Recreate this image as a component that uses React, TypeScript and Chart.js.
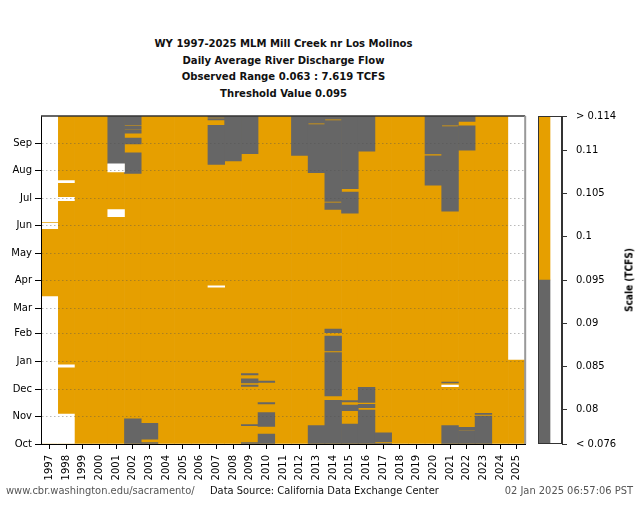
import React, { useEffect, useRef } from 'react';
import { Chart, registerables } from 'chart.js';

Chart.register(...registerables);

// ---------- data ----------
const years = [
  '1997', '1998', '1999', '2000', '2001', '2002', '2003', '2004', '2005', '2006',
  '2007', '2008', '2009', '2010', '2011', '2012', '2013', '2014', '2015', '2016',
  '2017', '2018', '2019', '2020', '2021', '2022', '2023', '2024', '2025',
];

// day-of-water-year (0 = Oct 1) where each month starts
const monthStarts = [0, 31, 61, 92, 123, 151, 182, 212, 243, 273, 304, 334];
const monthLabels = ['Oct', 'Nov', 'Dec', 'Jan', 'Feb', 'Mar', 'Apr', 'May', 'Jun', 'Jul', 'Aug', 'Sep'];
const waterYearDays = 365;

// runs of days with flow below the threshold: [year, startDay, endDay]
const belowRuns: [string, number, number][] = [
  ['2001', 312, 365],
  ['2002', 0, 28],
  ['2002', 301, 324],
  ['2002', 334, 340.5],
  ['2002', 346, 349],
  ['2002', 350, 353.5],
  ['2002', 354.7, 365],
  ['2003', 0, 1.5],
  ['2003', 5.5, 23],
  ['2007', 311, 354.7],
  ['2007', 360.5, 362],
  ['2007', 363.3, 365],
  ['2008', 315, 365],
  ['2009', 0, 1.5],
  ['2009', 20.5, 21.5],
  ['2009', 64, 65.5],
  ['2009', 68, 72.5],
  ['2009', 77, 78.5],
  ['2009', 323, 365],
  ['2010', 0, 11],
  ['2010', 19.5, 35],
  ['2010', 44.5, 46],
  ['2010', 68.5, 70],
  ['2012', 321, 365],
  ['2013', 0, 20.5],
  ['2013', 302, 355.4],
  ['2013', 357, 365],
  ['2014', 0, 48.6],
  ['2014', 53.4, 101.6],
  ['2014', 103.5, 120.2],
  ['2014', 124, 128],
  ['2014', 261, 268.5],
  ['2014', 270, 359.8],
  ['2014', 361.4, 365],
  ['2015', 0, 22.3],
  ['2015', 37, 43.4],
  ['2015', 46.7, 48.2],
  ['2015', 257, 280.4],
  ['2015', 284, 365],
  ['2016', 0, 37.8],
  ['2016', 40.4, 44.2],
  ['2016', 46.4, 63],
  ['2016', 326, 365],
  ['2017', 0, 1],
  ['2017', 2.5, 12.5],
  ['2020', 288, 320.8],
  ['2020', 322.7, 365],
  ['2021', 0, 20.4],
  ['2021', 68, 69],
  ['2021', 259, 353.1],
  ['2021', 354.7, 365],
  ['2022', 0, 15],
  ['2022', 16, 18.5],
  ['2022', 327, 354],
  ['2022', 359, 365],
  ['2023', 0, 31.2],
  ['2023', 33, 34.2],
];

// runs of days with no data: [year, startDay, endDay]
const missingRuns: [string, number, number][] = [
  ['1997', 0, 164],
  ['1997', 239.5, 245.5],
  ['1997', 247, 365],
  ['1998', 0, 33.4],
  ['1998', 85.4, 88],
  ['1998', 270.7, 274.5],
  ['1998', 290.8, 293],
  ['2001', 253, 261],
  ['2001', 302.7, 311.9],
  ['2007', 174.5, 176],
  ['2021', 63.8, 65.7],
  ['2025', 94.2, 365],
];

// colour scale
const scaleMin = 0.076;
const scaleMax = 0.114;
const threshold = 0.095;
const scaleTicks = [0.076, 0.08, 0.085, 0.09, 0.095, 0.1, 0.105, 0.11, 0.114];
const scaleTickLabels = ['< 0.076', '0.08', '0.085', '0.09', '0.095', '0.1', '0.105', '0.11', '> 0.114'];

const titleLines = [
  'WY 1997-2025 MLM Mill Creek nr Los Molinos',
  'Daily Average River Discharge Flow',
  'Observed Range 0.063 : 7.619 TCFS',
  'Threshold Value 0.095',
];

// ---------- styles ----------
const ORANGE = '#E69F00';
const GRAY = '#666666';
const FONT = "'DejaVu Sans', sans-serif";
const FONT_C = "'DejaVu Sans Condensed', 'DejaVu Sans', sans-serif";

const frameMain = {
  id: 'frameMain',
  afterDraw(chart: any) {
    const { ctx, chartArea: a } = chart;
    ctx.save();
    ctx.lineWidth = 1.5;
    ctx.strokeStyle = '#333333';
    ctx.beginPath();
    ctx.moveTo(a.left, a.top);
    ctx.lineTo(a.right, a.top);
    ctx.stroke();
    ctx.strokeStyle = '#999999';
    ctx.lineWidth = 2;
    ctx.beginPath();
    ctx.moveTo(a.right, a.top);
    ctx.lineTo(a.right, a.bottom);
    ctx.stroke();
    ctx.restore();
  },
};

const frameBar = {
  id: 'frameBar',
  afterDraw(chart: any) {
    const { ctx, chartArea: a } = chart;
    ctx.save();
    ctx.lineWidth = 1;
    ctx.strokeStyle = '#333333';
    ctx.strokeRect(a.left + 0.5, a.top + 0.5, a.right - a.left - 1, a.bottom - a.top - 1);
    ctx.restore();
  },
};

export default function App() {
  const mainRef = useRef<HTMLCanvasElement>(null);
  const barRef = useRef<HTMLCanvasElement>(null);

  useEffect(() => {
    const barOpts = {
      grouped: false,
      categoryPercentage: 1,
      barPercentage: 1,
      borderWidth: 0,
    };
    const main = new Chart(mainRef.current!, {
      type: 'bar',
      data: {
        labels: years,
        datasets: [
          {
            label: 'missing',
            data: missingRuns.map(([x, a, b]) => ({ x, y: [a, b] })),
            backgroundColor: '#FFFFFF',
            order: 1,
            ...barOpts,
          } as any,
          {
            label: 'below threshold',
            data: belowRuns.map(([x, a, b]) => ({ x, y: [a, b] })),
            backgroundColor: GRAY,
            order: 2,
            ...barOpts,
          } as any,
          {
            label: 'above threshold',
            data: years.map((x) => ({ x, y: [0, waterYearDays] })),
            backgroundColor: ORANGE,
            order: 3,
            ...barOpts,
          } as any,
        ],
      },
      options: {
        animation: false,
        responsive: false,
        maintainAspectRatio: false,
        layout: { padding: { left: 0, top: 116, right: 9, bottom: 0 } },
        plugins: { legend: { display: false }, tooltip: { enabled: false }, title: { display: false } },
        scales: {
          x: {
            type: 'category',
            offset: true,
            grid: { display: true, offset: false, drawOnChartArea: false, drawTicks: true, tickLength: 5, tickColor: '#000', z: 2 },
            border: { display: true, color: '#000', width: 1, z: 2 },
            ticks: {
              autoSkip: false,
              maxRotation: 90,
              minRotation: 90,
              padding: 6,
              color: '#000',
              font: { family: FONT, size: 10 },
            },
            afterFit: (s: any) => { s.height = 86; },
          },
          y: {
            type: 'linear',
            min: 0,
            max: waterYearDays,
            afterBuildTicks: (s: any) => { s.ticks = monthStarts.map((v) => ({ value: v })); },
            ticks: {
              padding: 3,
              color: '#000',
              font: { family: FONT, size: 10 },
              callback: (v: any) => monthLabels[monthStarts.indexOf(Number(v))],
            },
            grid: { color: 'rgba(80,80,80,0.4)', tickColor: '#000', tickLength: 6, lineWidth: 1, z: 1 },
            border: { display: true, color: '#000', width: 1, dash: [1.5, 2.5], z: 2 },
            afterFit: (s: any) => { s.width = 41; },
          },
        },
      } as any,
      plugins: [frameMain],
    });

    const bar = new Chart(barRef.current!, {
      type: 'bar',
      data: {
        labels: ['scale'],
        datasets: [
          { label: 'below', data: [[scaleMin, threshold]], backgroundColor: GRAY, ...barOpts } as any,
          { label: 'above', data: [[threshold, scaleMax]], backgroundColor: ORANGE, ...barOpts } as any,
        ],
      },
      options: {
        animation: false,
        responsive: false,
        maintainAspectRatio: false,
        layout: { padding: { left: 3, top: 116, right: 0, bottom: 86 } },
        plugins: { legend: { display: false }, tooltip: { enabled: false } },
        scales: {
          x: { display: false, offset: false },
          y: {
            type: 'linear',
            position: 'right',
            min: scaleMin,
            max: scaleMax,
            afterBuildTicks: (s: any) => { s.ticks = scaleTicks.map((v) => ({ value: v })); },
            ticks: {
              padding: 9,
              color: '#000',
              font: { family: FONT, size: 10 },
              callback: (v: any) => scaleTickLabels[scaleTicks.findIndex((t) => Math.abs(t - Number(v)) < 1e-9)],
            },
            grid: { drawOnChartArea: false, tickColor: '#333', tickLength: 5 },
            border: { display: true, color: '#333', width: 1 },
            afterFit: (s: any) => { s.width = 78; },
          },
        },
      } as any,
      plugins: [frameBar],
    });

    return () => {
      main.destroy();
      bar.destroy();
    };
  }, []);

  const footer = { position: 'absolute' as const, top: 484, fontFamily: FONT_C, fontSize: 11, whiteSpace: 'nowrap' as const };

  return (
    <div style={{ position: 'absolute', left: 0, top: 0, width: 640, height: 530, background: '#fff', overflow: 'hidden' }}>
      <div
        style={{
          position: 'absolute', left: 41, top: 36, width: 485, textAlign: 'center',
          fontFamily: FONT_C, fontWeight: 'bold', fontSize: 11.2, lineHeight: '16.7px', color: '#111',
        }}
      >
        {titleLines.map((t) => (<div key={t}>{t}</div>))}
      </div>
      <canvas ref={mainRef} width={535} height={530} style={{ position: 'absolute', left: 0, top: 0 }} />
      <canvas ref={barRef} width={105} height={530} style={{ position: 'absolute', left: 535, top: 0 }} />
      <div
        style={{
          position: 'absolute', left: 629, top: 280, transform: 'translate(-50%, -50%) rotate(-90deg)',
          fontFamily: FONT_C, fontWeight: 'bold', fontSize: 10, whiteSpace: 'nowrap', color: '#000',
        }}
      >
        Scale (TCFS)
      </div>
      <div style={{ ...footer, left: 6, color: '#555' }}>www.cbr.washington.edu/sacramento/</div>
      <div style={{ ...footer, left: 210, color: '#111' }}>Data Source: California Data Exchange Center</div>
      <div style={{ ...footer, right: 7, color: '#555' }}>02 Jan 2025 06:57:06 PST</div>
    </div>
  );
}
